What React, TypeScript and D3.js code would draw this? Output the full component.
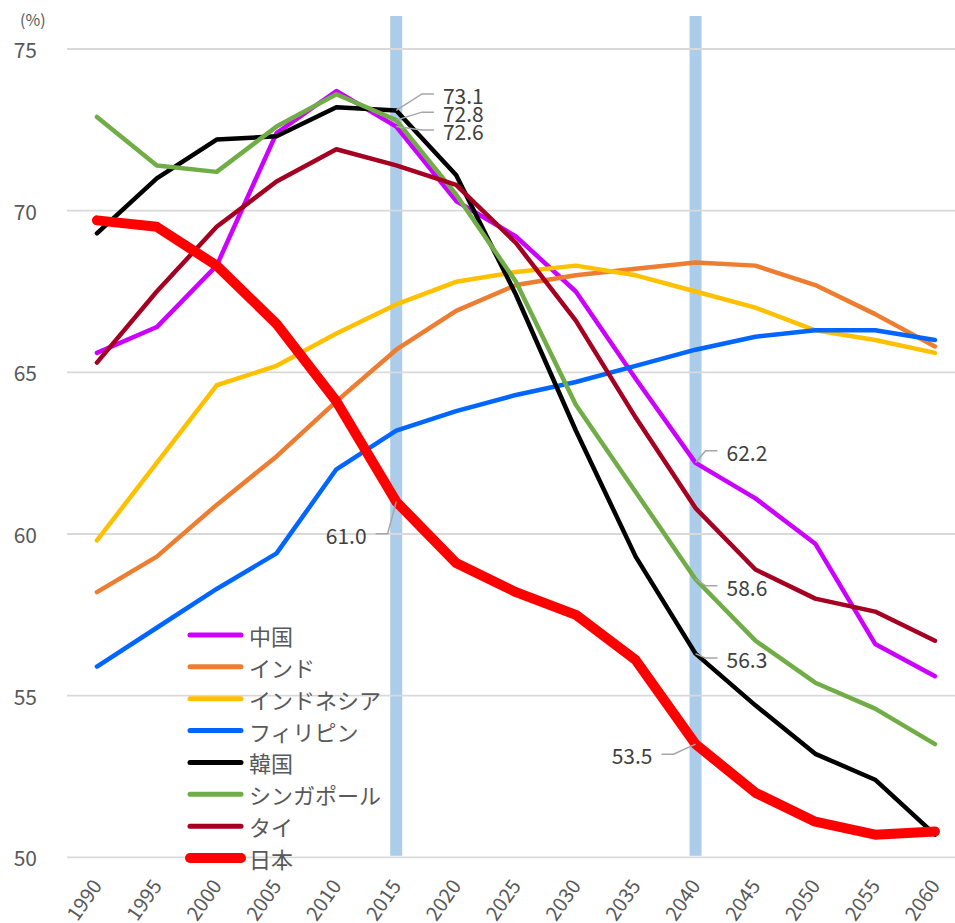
import React from "react";
import * as d3 from "d3";

// Working-age population share (15–64, %) by country, 1990–2060
const years = [1990, 1995, 2000, 2005, 2010, 2015, 2020, 2025, 2030, 2035, 2040, 2045, 2050, 2055, 2060];

const china = [65.6, 66.4, 68.3, 72.4, 73.7, 72.6, 70.3, 69.2, 67.5, 64.8, 62.2, 61.1, 59.7, 56.6, 55.6];
const india = [58.2, 59.3, 60.9, 62.4, 64.1, 65.7, 66.9, 67.7, 68.0, 68.2, 68.4, 68.3, 67.7, 66.8, 65.8];
const indonesia = [59.8, 62.2, 64.6, 65.2, 66.2, 67.1, 67.8, 68.1, 68.3, 68.0, 67.5, 67.0, 66.3, 66.0, 65.6];
const philippines = [55.9, 57.1, 58.3, 59.4, 62.0, 63.2, 63.8, 64.3, 64.7, 65.2, 65.7, 66.1, 66.3, 66.3, 66.0];
const korea = [69.3, 71.0, 72.2, 72.3, 73.2, 73.1, 71.1, 67.4, 63.2, 59.3, 56.3, 54.7, 53.2, 52.4, 50.7];
const singapore = [72.9, 71.4, 71.2, 72.6, 73.6, 72.8, 70.5, 67.8, 64.0, 61.3, 58.6, 56.7, 55.4, 54.6, 53.5];
const thailand = [65.3, 67.5, 69.5, 70.9, 71.9, 71.4, 70.8, 69.0, 66.6, 63.6, 60.8, 58.9, 58.0, 57.6, 56.7];
const japan = [69.7, 69.5, 68.3, 66.5, 64.1, 61.0, 59.1, 58.2, 57.5, 56.1, 53.5, 52.0, 51.1, 50.7, 50.8];

const seriesNames = ["中国", "インド", "インドネシア", "フィリピン", "韓国", "シンガポール", "タイ", "日本"];
const seriesValues = [china, india, indonesia, philippines, korea, singapore, thailand, japan];
const seriesColors = ["#CC00FF", "#ED7D31", "#FFC000", "#0066FF", "#000000", "#70AD47", "#A50021", "#FF0000"];

const yTicks = [50, 55, 60, 65, 70, 75];
const highlightYears = [2015, 2040];

// Annotated points: series index, year, and text offset from the point
const labelSeries = [4, 5, 0, 7, 0, 5, 4, 7];
const labelYears = [2015, 2015, 2015, 2015, 2040, 2040, 2040, 2040];
const labelOffsets: [number, number][] = [
  [46.7, -15.5],
  [46.7, -7],
  [46.7, 4.3],
  [-29.6, 33],
  [31, -11],
  [31, 7.5],
  [31, 5.5],
  [-43, 11],
];

const FONT = "'Noto Sans CJK JP', 'Noto Sans', sans-serif";

export default function App() {
  const W = 955;
  const H = 923;
  const step = 59.86;
  const left = 67;

  const x = d3
    .scaleBand<number>()
    .domain(years)
    .range([left, left + step * years.length])
    .paddingInner(0)
    .paddingOuter(0);
  const xc = (yr: number) => (x(yr) as number) + x.bandwidth() / 2;

  const y = d3.scaleLinear().domain([50, 75]).range([857.3, 49]);

  const line = d3
    .line<number>()
    .x((_, i) => xc(years[i]))
    .y((v) => y(v))
    .curve(d3.curveLinear);

  const legendY0 = 635;
  const legendStep = 31.86;

  return (
    <div style={{ position: "fixed", left: 0, top: 0 }}>
      <svg width={W} height={H} style={{ display: "block", background: "#fff" }}>
        {/* highlight bands */}
        {highlightYears.map((yr) => (
          <rect key={yr} x={xc(yr) - 6} y={16} width={12} height={y(50) - 16 - 1.5} fill="#ABCDEA" />
        ))}

        {/* gridlines */}
        {yTicks.map((t) => (
          <line key={t} x1={left} x2={W} y1={y(t)} y2={y(t)} stroke="#D9D9D9" strokeWidth={1.8} />
        ))}

        {/* y tick labels */}
        {yTicks.map((t) => (
          <text
            key={"yt" + t}
            x={37}
            y={y(t)}
            textAnchor="end"
            dominantBaseline="central"
            fontFamily={FONT}
            fontSize={21}
            fill="#595959"
          >
            {t}
          </text>
        ))}
        <text x={20} y={19} fontFamily={FONT} fontSize={16} fill="#595959" dominantBaseline="central">
          (%)
        </text>

        {/* x tick labels */}
        {years.map((yr) => (
          <text
            key={"xt" + yr}
            transform={`translate(${xc(yr) - 1},${881}) rotate(-55)`}
            textAnchor="end"
            dominantBaseline="central"
            fontFamily={FONT}
            fontSize={20}
            fill="#595959"
          >
            {yr}
          </text>
        ))}

        {/* series lines */}
        {seriesValues.map((vals, i) => (
          <path
            key={seriesNames[i]}
            d={line(vals) || ""}
            fill="none"
            stroke={seriesColors[i]}
            strokeWidth={i === 7 ? 10 : 4.5}
            strokeLinejoin="round"
            strokeLinecap="round"
          />
        ))}

        {/* value labels with leader lines */}
        {labelSeries.map((si, k) => {
          const yr = labelYears[k];
          const v = seriesValues[si][years.indexOf(yr)];
          const px = xc(yr);
          const py = y(v);
          const [dx, dy] = labelOffsets[k];
          const tx = px + dx;
          const ty = py + dy;
          const side = dx > 0 ? 1 : -1;
          const gap = 9;
          const hlen = 12;
          const pts: [number, number][] = [
            [px, py],
            [tx - side * (gap + hlen), ty - 1],
            [tx - side * gap, ty - 1],
          ];
          return (
            <g key={"lb" + k}>
              <polyline
                points={pts.map((p) => p.join(",")).join(" ")}
                fill="none"
                stroke="#A6A6A6"
                strokeWidth={1.5}
              />
              <text
                x={tx}
                y={ty}
                textAnchor={side > 0 ? "start" : "end"}
                dominantBaseline="central"
                fontFamily={FONT}
                fontSize={21}
                fill="#404040"
              >
                {v.toFixed(1)}
              </text>
            </g>
          );
        })}

        {/* legend */}
        {seriesNames.map((name, i) => {
          const ly = legendY0 + i * legendStep;
          return (
            <g key={"lg" + name}>
              <line
                x1={190}
                x2={241}
                y1={ly}
                y2={ly}
                stroke={seriesColors[i]}
                strokeWidth={i === 7 ? 10 : 5}
                strokeLinecap="round"
              />
              <text x={249} y={ly} dominantBaseline="central" fontFamily={FONT} fontSize={22} fill="#595959">
                {name}
              </text>
            </g>
          );
        })}
      </svg>
    </div>
  );
}
